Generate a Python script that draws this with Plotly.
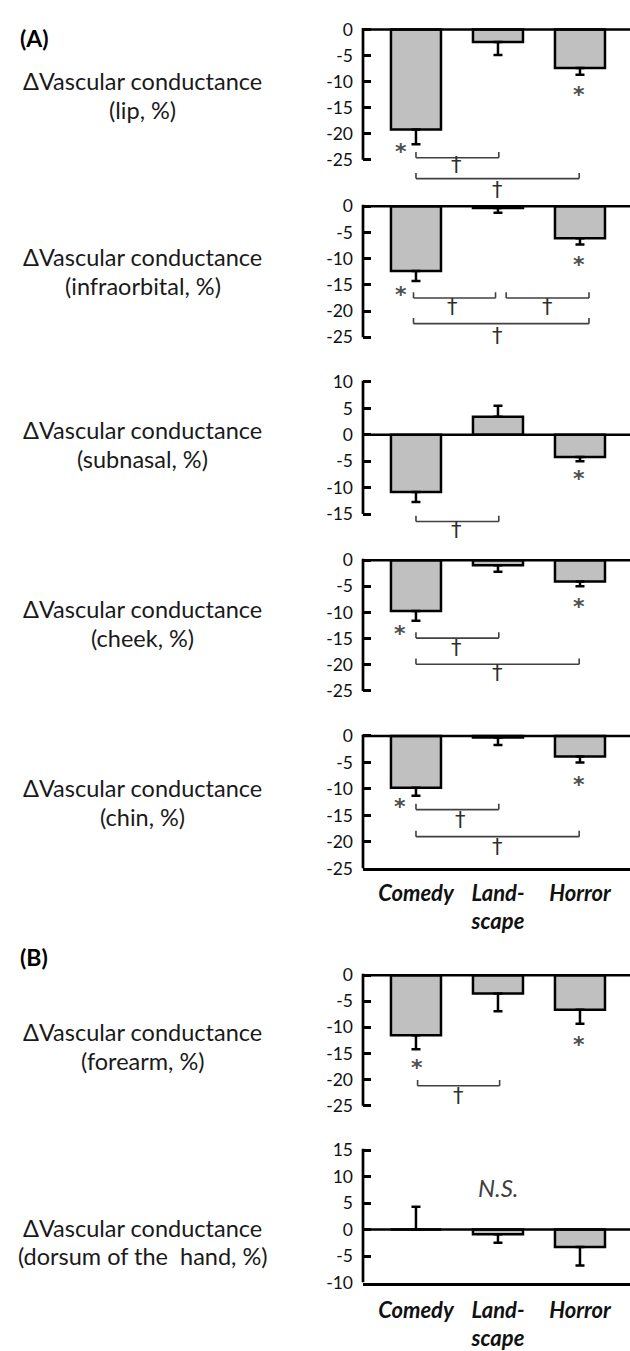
import plotly.graph_objects as go

# ---------------- data ----------------
categories = ["Comedy", "Landscape", "Horror"]
x_tick_text = ["Comedy", "Land-<br>scape", "Horror"]

lip = [-19.2, -2.4, -7.4]
lip_sem = [2.8, 2.5, 1.3]
infraorbital = [-12.35, -0.35, -6.1]
infraorbital_sem = [1.9, 0.9, 1.2]
subnasal = [-10.8, 3.4, -4.2]
subnasal_sem = [1.9, 2.1, 0.8]
cheek = [-9.7, -1.0, -4.1]
cheek_sem = [1.9, 1.2, 0.9]
chin = [-9.8, -0.3, -3.9]
chin_sem = [1.5, 1.4, 1.1]
forearm = [-11.5, -3.5, -6.6]
forearm_sem = [2.7, 3.4, 2.7]
dorsum = [0.0, -0.9, -3.3]
dorsum_sem = [4.3, 1.6, 3.5]

y_ticks_face = [0, -5, -10, -15, -20, -25]
y_ticks_subnasal = [10, 5, 0, -5, -10, -15]
y_ticks_hand = [15, 10, 5, 0, -5, -10]

regions = ["lip", "infraorbital", "subnasal", "cheek", "chin", "forearm",
           "dorsum of the\u00a0 hand"]

# significance marks (x in category index, y in data units)
asterisks = {
    1: [(-0.18, -22.4), (1.99, -11.6)],
    2: [(-0.18, -15.9), (1.99, -10.2)],
    3: [(1.99, -7.35)],
    4: [(-0.2, -13.05), (1.99, -7.85)],
    5: [(-0.2, -12.4), (1.99, -8.25)],
    6: [(0.01, -16.7), (1.99, -12.4)],
    7: [],
}
brackets = {
    1: [(0.0, 1.01, -24.6), (0.0, 1.99, -28.6)],
    2: [(-0.03, 0.97, -17.5), (1.1, 2.11, -17.5), (-0.03, 2.11, -22.4)],
    3: [(0.0, 1.01, -16.4)],
    4: [(0.0, 1.01, -14.9), (0.0, 1.99, -19.9)],
    5: [(0.0, 1.01, -13.9), (0.0, 1.99, -19.0)],
    6: [(0.02, 1.02, -21.2)],
    7: [],
}
daggers = {
    1: [(0.5, -26.1), (1.0, -30.9)],
    2: [(0.45, -19.5), (1.6, -19.5), (1.0, -24.9)],
    3: [(0.5, -18.2)],
    4: [(0.49, -16.9), (1.0, -21.85)],
    5: [(0.54, -16.1), (1.0, -21.2)],
    6: [(0.52, -23.25)],
    7: [],
}

# ---------------- layout geometry ----------------
W, H = 630, 1351
AX_PX = 363
X_RANGE = [-0.646, 2.61]
FONT = "Lato"
MARK_FONT = "DejaVu Sans"
BAR_FILL = "#c0c0c0"
MARK_COLOR = "#404040"

panels = [
    dict(vals=lip, sem=lip_sem, ticks=y_ticks_face, top_px=21.7, bot_px=154.0, rmin=-32.4, label_mid=88.5, xlab=False, xstand=4),
    dict(vals=infraorbital, sem=infraorbital_sem, ticks=y_ticks_face, top_px=201.0, bot_px=334.0, rmin=-26.2, label_mid=267.5, xlab=False, xstand=4),
    dict(vals=subnasal, sem=subnasal_sem, ticks=y_ticks_subnasal, top_px=379.3, bot_px=513.3, rmin=-19.4, label_mid=443.0, xlab=False, xstand=4),
    dict(vals=cheek, sem=cheek_sem, ticks=y_ticks_face, top_px=560.0, bot_px=692.7, rmin=-25.5, label_mid=624.5, xlab=False, xstand=4),
    dict(vals=chin, sem=chin_sem, ticks=y_ticks_face, top_px=738.3, bot_px=872.7, rmin=-25.0, label_mid=806.0, xlab=True, xstand=3),
    dict(vals=forearm, sem=forearm_sem, ticks=y_ticks_face, top_px=981.0, bot_px=1113.3, rmin=-25.5, label_mid=1053.5, xlab=False, xstand=4),
    dict(vals=dorsum, sem=dorsum_sem, ticks=y_ticks_hand, top_px=1158.3, bot_px=1292.7, rmin=-10.0, label_mid=1251.5, xlab=True, xstand=6),
]

fig = go.Figure()
shapes = []
annotations = []
layout_axes = {}

for i, p in enumerate(panels, start=1):
    xn = "x" if i == 1 else f"x{i}"
    yn = "y" if i == 1 else f"y{i}"
    top, bot = max(p["ticks"]), min(p["ticks"])
    s = (p["bot_px"] - p["top_px"]) / (top - bot)
    rmax = top + 0.5
    py_top = p["top_px"] - 0.5 * s
    py_bot = p["top_px"] + (top - p["rmin"]) * s
    ydom = [1 - py_bot / H, 1 - py_top / H]

    vals, sem = p["vals"], p["sem"]
    up = [v >= 0 for v in vals]
    fig.add_trace(go.Bar(
        x=categories, y=vals, width=0.61,
        marker=dict(color=BAR_FILL, line=dict(color="black", width=2.5)),
        error_y=dict(type="data", symmetric=False,
                     array=[e if u else 0 for e, u in zip(sem, up)],
                     arrayminus=[0 if u else e for e, u in zip(sem, up)],
                     color="black", thickness=2.5, width=4.5),
        xaxis=xn, yaxis=yn, showlegend=False, hoverinfo="skip",
    ))

    layout_axes["xaxis" if i == 1 else f"xaxis{i}"] = dict(
        domain=[AX_PX / W, 1.0], range=X_RANGE, anchor=yn, type="category",
        showgrid=False, zeroline=False,
        showline=p["xlab"], linewidth=2.7, linecolor="black",
        ticks="", showticklabels=p["xlab"],
        tickmode="array", tickvals=categories, ticktext=x_tick_text,
        tickfont=dict(family=FONT, size=22, color="#111111", weight="bold", style="italic"),
        ticklabelstandoff=p["xstand"],
    )
    layout_axes["yaxis" if i == 1 else f"yaxis{i}"] = dict(
        domain=ydom, range=[p["rmin"], rmax], anchor=xn,
        showgrid=False, zeroline=False, showline=False,
        ticks="inside", ticklen=8, tickwidth=2.7, tickcolor="black",
        tickmode="array", tickvals=p["ticks"], ticktext=[str(t) for t in p["ticks"]],
        tickfont=dict(family=FONT, size=17.5, color="#111111"),
        ticklabelstandoff=9,
    )

    # y axis line (only over the ticked span) and zero line
    ext = 1.35 / s
    shapes.append(dict(type="line", xref=f"{xn} domain", x0=0, x1=0, yref=yn,
                       y0=bot, y1=top + ext, line=dict(color="black", width=2.7)))
    shapes.append(dict(type="line", xref=f"{xn} domain", x0=0, x1=1, yref=yn,
                       y0=0, y1=0, line=dict(color="black", width=2.5)))

    # brackets
    h = 1.1
    for (bx0, bx1, by) in brackets[i]:
        for seg in [(bx0, by + h, bx0, by), (bx0, by, bx1, by), (bx1, by, bx1, by + h)]:
            shapes.append(dict(type="line", xref=xn, yref=yn,
                               x0=seg[0], y0=seg[1], x1=seg[2], y1=seg[3],
                               line=dict(color=MARK_COLOR, width=1.6)))
    for (ax_, ay_) in asterisks[i]:
        annotations.append(dict(xref=xn, yref=yn, x=ax_, y=ay_, text="*", showarrow=False,
                                font=dict(family=MARK_FONT, size=22, color="#505050", weight="bold"),
                                xanchor="center", yanchor="middle", yshift=-5))
    for (dx, dy) in daggers[i]:
        annotations.append(dict(xref=xn, yref=yn, x=dx, y=dy, text="\u2020", showarrow=False,
                                font=dict(family=MARK_FONT, size=21, color="#2e2e2e"),
                                xanchor="center", yanchor="middle", yshift=1))

    # left labels
    annotations.append(dict(xref="paper", yref="paper", x=142.5 / W, y=1 - (p["label_mid"] - 14.5) / H,
                            text="\u0394Vascular conductance", showarrow=False,
                            font=dict(family=FONT, size=23.5, color="#1a1a1a"),
                            xanchor="center", yanchor="middle"))
    annotations.append(dict(xref="paper", yref="paper", x=142.5 / W, y=1 - (p["label_mid"] + 14.5) / H,
                            text=f"({regions[i-1]}, %)", showarrow=False,
                            font=dict(family=FONT, size=23.5, color="#1a1a1a"),
                            xanchor="center", yanchor="middle"))

# N.S. in hand panel
annotations.append(dict(xref="x7", yref="y7", x=1.0, y=8.0, text="N.S.", showarrow=False,
                        font=dict(family=FONT, size=24, color=MARK_COLOR, style="italic"),
                        xanchor="center", yanchor="middle"))
# section labels
for txt, py in [("(A)", 30), ("(B)", 963)]:
    annotations.append(dict(xref="paper", yref="paper", x=18 / W, y=1 - py / H, text=txt,
                            showarrow=False, font=dict(family=FONT, size=23, color="black", weight="bold"),
                            xanchor="left", yanchor="middle"))

fig.update_layout(
    width=W, height=H, margin=dict(l=0, r=0, t=0, b=0), autosize=False,
    paper_bgcolor="white", plot_bgcolor="white",
    shapes=shapes, annotations=annotations, bargap=0.3,
    **layout_axes,
)

fig.write_html("out.html", config={"displayModeBar": False})
